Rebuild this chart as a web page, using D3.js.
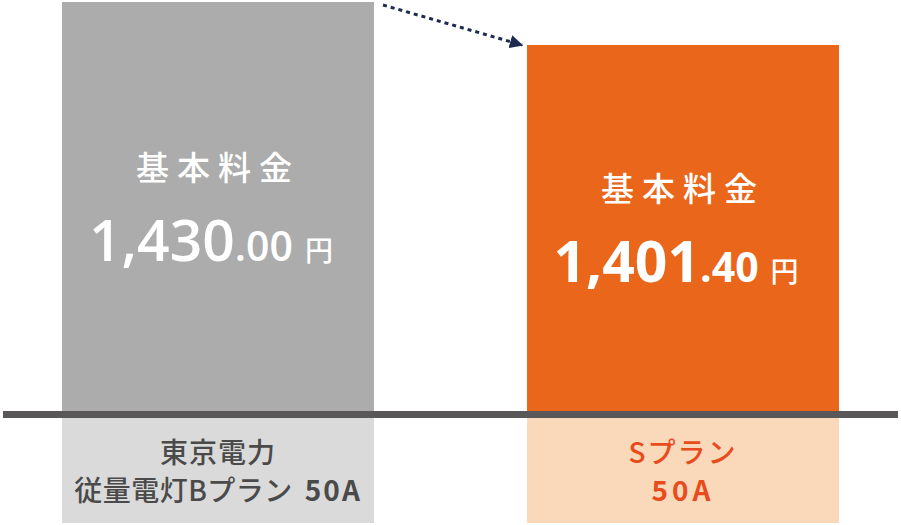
<!DOCTYPE html>
<html>
<head>
<meta charset="utf-8">
<script src="https://cdn.jsdelivr.net/npm/d3@7"></script>
<style>
  html, body { margin: 0; padding: 0; background: #fff; }
  svg { display: block; }
</style>
</head>
<body>
<div id="chart"></div>
<script>
// plan comparison: basic charge, two bars
const plans = ['tepco', 'splan'];
const charges = [1430.00, 1401.40];
const intParts = ['1,430', '1,401'];
const decParts = ['.00', '.40'];
const titleLabel = '基本料金';
const yenLabel = '円';
const planLines = [
  [['東京電力', 500, 0, 1]],
  [['Sプラン', 500, 0, 2]]
];
const planLine2 = [
  [['従量電灯Bプラン', 500, 0, 0.5], ['50A', 700, 12, 2]],
  [['50A', 700, 0, 4]]
];

const barColor = ['#acacac', '#e9661b'];
const boxColor = ['#dadada', '#fad9ba'];
const labelColor = ['#4a4a4a', '#e84c1c'];
const numWeight = [600, 700];

(function(){
  const width = 901, height = 525;
  const baseY = 411;
  const svg = d3.select('#chart').append('svg').attr('width', width).attr('height', height);

  const x = d3.scaleBand().domain(plans).range([62, 839]).paddingInner(0.329).paddingOuter(0);
  const y = d3.scaleLinear().domain([1158, 1430]).range([baseY, 2]);

  const data = plans.map((p, i) => ({ p, i, v: charges[i] }));

  // label boxes under the baseline
  svg.append('g').selectAll('rect')
    .data(data).enter().append('rect')
    .attr('x', d => x(d.p))
    .attr('y', baseY + 7)
    .attr('width', x.bandwidth())
    .attr('height', height - 2 - baseY - 7)
    .attr('fill', d => boxColor[d.i]);

  // bars
  svg.append('g').selectAll('rect')
    .data(data).enter().append('rect')
    .attr('x', d => x(d.p))
    .attr('y', d => y(d.v))
    .attr('width', x.bandwidth())
    .attr('height', d => baseY - y(d.v))
    .attr('fill', d => barColor[d.i]);

  // baseline
  svg.append('rect')
    .attr('x', 3).attr('y', baseY)
    .attr('width', 895).attr('height', 7)
    .attr('fill', '#595757');

  // text inside bars
  const inner = svg.append('g').selectAll('g')
    .data(data).enter().append('g')
    .attr('transform', d => `translate(${x(d.p) + x.bandwidth() / 2},${(y(d.v) + baseY) / 2})`);

  inner.append('text')
    .attr('y', -27)
    .attr('dx', 0)
    .attr('text-anchor', 'middle')
    .attr('fill', '#fff')
    .style('font-family', '"Noto Sans CJK JP", sans-serif')
    .style('font-size', '33px')
    .style('font-weight', 500)
    .style('letter-spacing', '8px')
    .text(titleLabel);

  const num = inner.append('text')
    .attr('x', -7)
    .attr('y', 54)
    .attr('text-anchor', 'middle')
    .attr('fill', '#fff')
    .style('font-family', '"Open Sans", sans-serif');
  num.append('tspan').style('font-size', '57px').style('font-weight', d => numWeight[d.i]).text(d => intParts[d.i]);
  num.append('tspan').style('font-size', '41px').style('font-weight', d => numWeight[d.i]).text(d => decParts[d.i]);
  num.append('tspan').attr('dx', 12).style('font-size', '28px').style('font-weight', 500)
    .style('font-family', '"Noto Sans CJK JP", sans-serif').text(yenLabel);

  // plan labels in the boxes
  const lab = svg.append('g').selectAll('g')
    .data(data).enter().append('g')
    .attr('transform', d => `translate(${x(d.p) + x.bandwidth() / 2},0)`)
    .style('font-family', '"Noto Sans CJK JP", sans-serif')
    .style('font-size', '28px')
    .attr('fill', d => labelColor[d.i]);

  lab.append('text').attr('y', 463).attr('text-anchor', 'middle')
    .selectAll('tspan').data(d => planLines[d.i]).enter().append('tspan')
    .attr('dx', d => d[2])
    .style('letter-spacing', d => d[3] + 'px')
    .style('font-weight', d => d[1]).text(d => d[0]);

  lab.append('text').attr('y', 501).attr('text-anchor', 'middle')
    .selectAll('tspan').data(d => planLine2[d.i]).enter().append('tspan')
    .attr('dx', d => d[2])
    .style('letter-spacing', d => d[3] + 'px')
    .style('font-weight', d => d[1]).text(d => d[0]);

  // dotted arrow from first bar top to second bar top
  svg.append('defs').append('marker')
    .attr('id', 'head')
    .attr('viewBox', '0 0 10 10')
    .attr('refX', 9).attr('refY', 5)
    .attr('markerWidth', 4.5).attr('markerHeight', 4.5)
    .attr('orient', 'auto')
    .append('path').attr('d', 'M0,0L10,5L0,10Z').attr('fill', '#1c2a4d');

  const x0 = x(plans[0]) + x.bandwidth() + 9, y0 = y(charges[0]) + 3;
  const x1 = x(plans[1]) - 5, y1 = y(charges[1]);
  svg.append('line')
    .attr('x1', x0).attr('y1', y0)
    .attr('x2', x1).attr('y2', y1)
    .attr('stroke', '#1c2a4d')
    .attr('stroke-width', 3)
    .attr('stroke-dasharray', '4 4')
    .attr('marker-end', 'url(#head)');
})();
</script>
</body>
</html>
